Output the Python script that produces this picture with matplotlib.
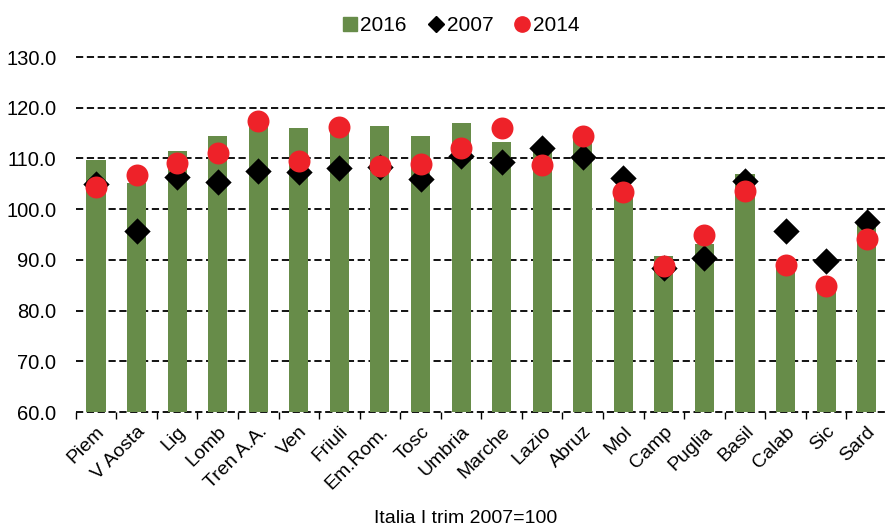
import matplotlib
matplotlib.use("Agg")
import matplotlib.pyplot as plt
from matplotlib.lines import Line2D
import numpy as np

regions = ["Piem", "V Aosta", "Lig", "Lomb", "Tren A.A.", "Ven", "Friuli", "Em.Rom.",
           "Tosc", "Umbria", "Marche", "Lazio", "Abruz", "Mol", "Camp", "Puglia",
           "Basil", "Calab", "Sic", "Sard"]
v2016 = [109.7, 105.2, 111.5, 114.4, 117.0, 116.0, 115.6, 116.3, 114.5, 117.0,
         113.2, 111.7, 113.8, 103.6, 90.8, 93.1, 106.9, 88.6, 84.6, 96.8]
v2007 = [104.9, 95.6, 106.4, 105.4, 107.5, 107.3, 108.2, 108.4, 106.0, 110.5,
         109.2, 112.1, 110.3, 106.2, 88.3, 90.4, 105.5, 95.7, 89.8, 97.4]
v2014 = [104.4, 106.7, 109.1, 111.1, 117.3, 109.4, 116.1, 108.5, 109.0, 112.1,
         116.0, 108.8, 114.4, 103.4, 88.8, 94.9, 103.6, 88.9, 84.9, 94.1]
yticks = [60, 70, 80, 90, 100, 110, 120, 130]

plt.rcParams['font.family'] = ['Liberation Sans Narrow', 'Liberation Sans', 'DejaVu Sans']
fig = plt.figure(figsize=(8.87, 5.28), dpi=100)
ax = fig.add_axes([75.7/887, 1-412/528, (887-75.7)/887, (412-57)/528])

x = np.arange(len(regions))
green = "#678C49"
red = "#EE2229"
ax.bar(x, [v - 60 for v in v2016], bottom=60, width=0.47, color=green, zorder=2)
ax.scatter(x, v2007, marker="D", s=180, color="black", zorder=3, linewidths=0)
ax.scatter(x, v2014, marker="o", s=250, color=red, zorder=4, linewidths=0)

ax.set_ylim(60, 130)
ax.set_xlim(-0.5, 19.44)
ax.set_yticks(yticks)
ax.set_yticklabels([f"{t:.1f}" for t in yticks], fontsize=14.5)
for t in yticks:
    ax.axhline(t, color="black", linestyle=(0, (4, 2)), linewidth=1.3, zorder=1, clip_on=False)
for s in ["left", "right", "top", "bottom"]:
    ax.spines[s].set_visible(False)
ax.tick_params(axis="y", length=0, pad=14)

ax.set_xticks(x)
ax.set_xticklabels(regions, rotation=45, ha="right", rotation_mode="anchor", fontsize=14)
ax.tick_params(axis="x", which="major", length=0, pad=8)
ax.set_xticks(np.arange(-0.5, 19.6, 1), minor=True)
ax.tick_params(axis="x", which="minor", length=5, width=1, color="black", direction="out")

handles = [
    Line2D([], [], linestyle="none", marker="s", markersize=10, color=green),
    Line2D([], [], linestyle="none", marker="D", markersize=8, color="black"),
    Line2D([], [], linestyle="none", marker="o", markersize=11, color=red),
]
ax.legend(handles, ["2016", "2007", "2014"], loc="upper center", bbox_to_anchor=(0.518, 1.005),
          bbox_transform=fig.transFigure, ncol=3, frameon=False, fontsize=15,
          handletextpad=0.0, columnspacing=0.9, handlelength=1.0)
fig.text(0.525, 0.002, "Italia I trim 2007=100", ha="center", va="bottom", fontsize=14)

fig.savefig("out.png", dpi=100)
